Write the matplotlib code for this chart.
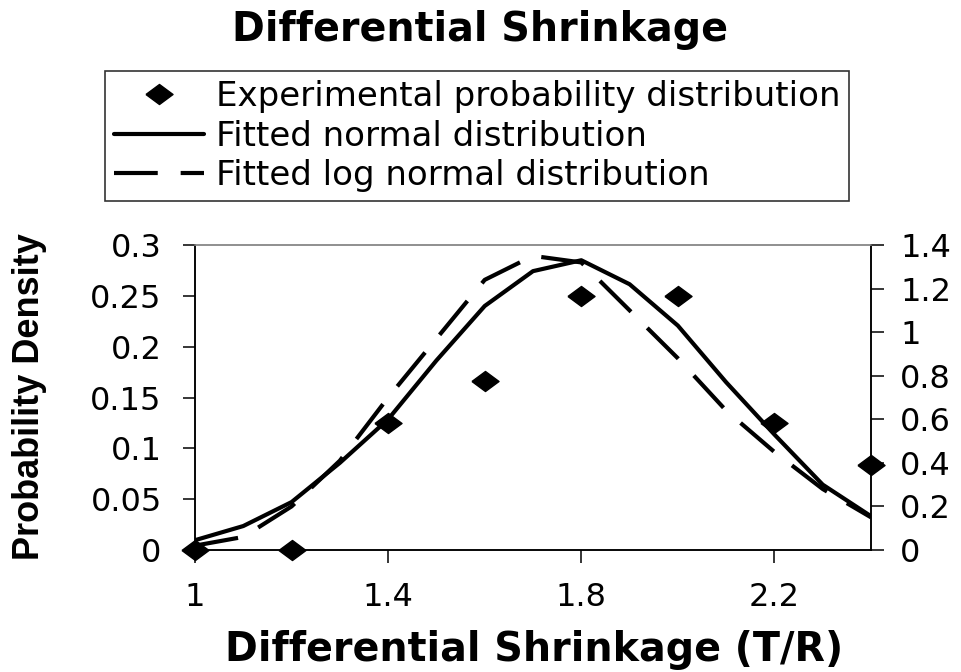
import matplotlib
matplotlib.use("Agg")
import matplotlib.pyplot as plt
from matplotlib.ticker import MultipleLocator, FormatStrFormatter

# experimental distribution (left axis)
exp_x = [1.0, 1.2, 1.4, 1.6, 1.8, 2.0, 2.2, 2.4]
exp_p = [0.0, 0.0, 0.125, 0.1667, 0.25, 0.25, 0.125, 0.0833]

# fitted curves (right axis)
fit_x = [1.0, 1.1, 1.2, 1.3, 1.4, 1.5, 1.6, 1.7, 1.8, 1.9, 2.0, 2.1, 2.2, 2.3, 2.4]
normal_fit = [0.045, 0.11, 0.22, 0.40, 0.60, 0.87, 1.12, 1.28, 1.33, 1.22, 1.03, 0.77, 0.53, 0.30, 0.155]
lognormal_fit = [0.02, 0.06, 0.20, 0.41, 0.70, 0.97, 1.24, 1.35, 1.32, 1.10, 0.88, 0.64, 0.45, 0.28, 0.15]

labels = ["Experimental probability distribution",
          "Fitted normal distribution",
          "Fitted log normal distribution"]

diamond = [(-1, 0), (0, 0.74), (1, 0), (0, -0.74), (-1, 0)]

fig = plt.figure(figsize=(9.62, 6.72), dpi=100)
ax = fig.add_axes([195/962, 122/672, 676/962, 305/672])
ax2 = ax.twinx()

pts, = ax.plot(exp_x, exp_p, linestyle="none", marker=diamond, markersize=19.5,
               color="black", clip_on=False, zorder=5)
l1, = ax2.plot(fit_x, normal_fit, color="black", lw=3, solid_capstyle="round")
l2, = ax2.plot(fit_x, lognormal_fit, color="black", lw=3, linestyle=(0, (10.5, 5.5)))

ax.set_xlim(1, 2.4)
ax.set_ylim(0, 0.3)
ax2.set_ylim(0, 1.4)
ax.set_xticks([1, 1.4, 1.8, 2.2])
ax.yaxis.set_major_locator(MultipleLocator(0.05))
ax2.yaxis.set_major_locator(MultipleLocator(0.2))
for a in (ax, ax2):
    a.yaxis.set_major_formatter(FormatStrFormatter("%g"))
    a.xaxis.set_major_formatter(FormatStrFormatter("%g"))
    for s in a.spines.values():
        s.set_linewidth(1.1)
        s.set_color("black")
    a.spines["top"].set_color("#8c8c8c")

ax.tick_params(axis="y", direction="out", length=9, width=1.1, pad=15, labelsize=23)
ax.tick_params(axis="x", direction="out", length=9, width=1.1, pad=14, labelsize=23)
ax2.tick_params(axis="y", direction="out", length=9, width=1.1, pad=12, labelsize=23)

fig.text(480/962, 1 - 30/672, "Differential Shrinkage", ha="center", va="center",
         fontsize=28.5, fontweight="bold")
fig.text(534/962, 1 - 650/672, "Differential Shrinkage (T/R)", ha="center", va="center",
         fontsize=28.5, fontweight="bold")
fig.text(30/962, 1 - 397/672, "Probability Density", ha="center", va="center",
         rotation=90, fontsize=26, fontweight="bold", family="Liberation Sans")

leg = fig.legend([pts, l1, l2], labels, loc="center",
                 bbox_to_anchor=(477/962, 1 - 136/672), fontsize=24.5,
                 handlelength=2.65, handletextpad=0.35, borderpad=0.25,
                 labelspacing=0.2, borderaxespad=0, numpoints=1,
                 fancybox=False, frameon=True, edgecolor="black")
leg.get_frame().set_linewidth(1.2)

fig.savefig("out.png", dpi=100)
